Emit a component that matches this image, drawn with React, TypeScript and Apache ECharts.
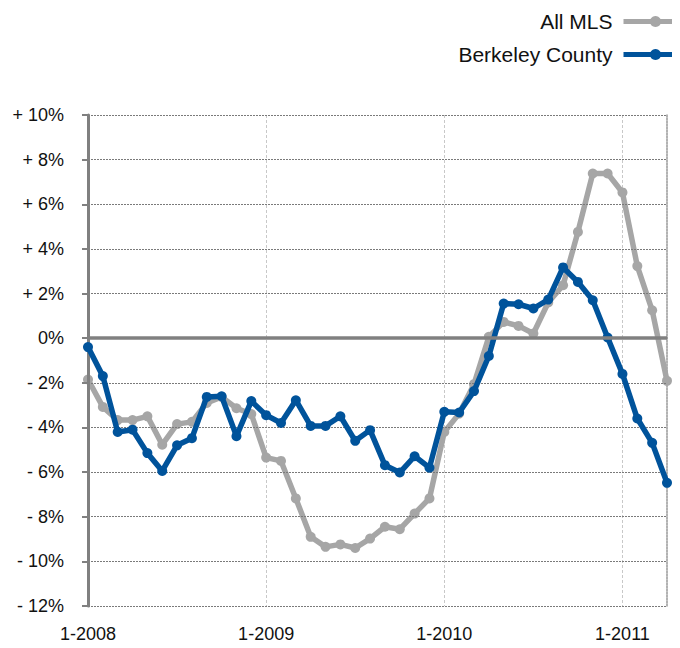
import React, { useEffect, useRef } from "react";
import * as echarts from "echarts";

const months: string[] = [
  "1-2008", "2-2008", "3-2008", "4-2008", "5-2008", "6-2008", "7-2008", "8-2008", "9-2008", "10-2008", "11-2008", "12-2008",
  "1-2009", "2-2009", "3-2009", "4-2009", "5-2009", "6-2009", "7-2009", "8-2009", "9-2009", "10-2009", "11-2009", "12-2009",
  "1-2010", "2-2010", "3-2010", "4-2010", "5-2010", "6-2010", "7-2010", "8-2010", "9-2010", "10-2010", "11-2010", "12-2010",
  "1-2011", "2-2011", "3-2011", "4-2011",
];

const allMls: number[] = [
  -1.85, -3.08, -3.67, -3.67, -3.5, -4.77, -3.85, -3.75, -2.9, -2.63, -3.14, -3.4,
  -5.35, -5.5, -7.18, -8.9, -9.35, -9.24, -9.4, -8.98, -8.45, -8.56, -7.86, -7.18,
  -4.2, -3.38, -2.06, 0.06, 0.73, 0.55, 0.21, 1.6, 2.37, 4.76, 7.38, 7.38,
  6.53, 3.23, 1.25, -1.91,
];

const berkeley: number[] = [
  -0.4, -1.7, -4.2, -4.1, -5.15, -5.95, -4.8, -4.48, -2.63, -2.6, -4.39, -2.82,
  -3.45, -3.8, -2.78, -3.93, -3.93, -3.5, -4.6, -4.12, -5.69, -6.02, -5.29, -5.8,
  -3.3, -3.33, -2.37, -0.8, 1.55, 1.52, 1.33, 1.73, 3.17, 2.52, 1.7, 0.03,
  -1.6, -3.6, -4.69, -6.48,
];

const seriesNames = ["All MLS", "Berkeley County"];

const FONT = "'Liberation Sans', Arial, Helvetica, sans-serif";

export default function App() {
  const ref = useRef<HTMLDivElement>(null);
  useEffect(() => {
    if (!ref.current) return;
    const chart = echarts.init(ref.current, undefined, { renderer: "svg" });
    const fmt = (v: number) => (v > 0 ? `+ ${v}%` : v < 0 ? `- ${Math.abs(v)}%` : "0%");
    chart.setOption({
      animation: false,
      backgroundColor: "#ffffff",
      textStyle: { fontFamily: FONT },
      legend: {
        orient: "vertical",
        right: -10,
        top: 11,
        align: "right",
        padding: 0,
        itemWidth: 64,
        itemHeight: 14,
        itemGap: 12,
        data: seriesNames,
        lineStyle: { width: 5 },
        textStyle: { fontSize: 21, color: "#111", fontFamily: FONT, padding: [0, 6, 0, 0] },
      },
      grid: { left: 88, right: 13, top: 115, bottom: 42, containLabel: false },
      xAxis: [
        {
          type: "category",
          data: months,
          boundaryGap: false,
          axisLine: { show: true, lineStyle: { color: "#aaaaaa", width: 2 } },
          axisTick: { show: false },
          axisLabel: {
            interval: (i: number) => i % 12 === 0,
            fontSize: 18,
            color: "#111",
            margin: 19,
            fontFamily: FONT,
          },
          splitLine: {
            show: true,
            interval: (i: number) => i % 12 === 0,
            lineStyle: { color: "#c8c8c8", width: 1, type: [3, 2] },
          },
        },
        {
          type: "category",
          data: months,
          position: "top",
          boundaryGap: false,
          axisLine: { show: true, lineStyle: { color: "#999999", width: 2 } },
          axisTick: { show: false },
          axisLabel: { show: false },
          splitLine: { show: false },
        },
      ],
      yAxis: [
        {
          type: "value",
          min: -12,
          max: 10,
          interval: 2,
          axisLine: { show: true, lineStyle: { color: "#808080", width: 3 } },
          axisTick: { show: true, length: 6, lineStyle: { color: "#808080", width: 2 } },
          axisLabel: { formatter: fmt, fontSize: 18, color: "#111", margin: 24, fontFamily: FONT },
          splitLine: { show: true, lineStyle: { color: "#7a7a7a", width: 1, type: [2, 1] } },
          z: 3,
        },
        {
          type: "value",
          min: -12,
          max: 10,
          interval: 2,
          position: "right",
          axisLine: { show: true, lineStyle: { color: "#999999", width: 1.5, type: [2, 1] } },
          axisTick: { show: false },
          axisLabel: { show: false },
          splitLine: { show: false },
        },
      ],
      series: [
        {
          name: seriesNames[0],
          type: "line",
          data: allMls,
          symbol: "circle",
          symbolSize: 10,
          showSymbol: true,
          showAllSymbol: true,
          lineStyle: { color: "#a6a6a6", width: 5.5 },
          itemStyle: { color: "#a6a6a6" },
          markLine: {
            silent: true,
            symbol: "none",
            label: { show: false },
            lineStyle: { color: "#808080", width: 3.5, type: "solid" },
            data: [{ yAxis: 0 }],
          },
          z: 2,
        },
        {
          name: seriesNames[1],
          type: "line",
          data: berkeley,
          symbol: "circle",
          symbolSize: 10,
          showSymbol: true,
          showAllSymbol: true,
          lineStyle: { color: "#00539b", width: 5.5 },
          itemStyle: { color: "#00539b" },
          z: 3,
        },
      ],
    });
    return () => chart.dispose();
  }, []);
  return <div ref={ref} style={{ width: 680, height: 648, margin: -8 }} />;
}
